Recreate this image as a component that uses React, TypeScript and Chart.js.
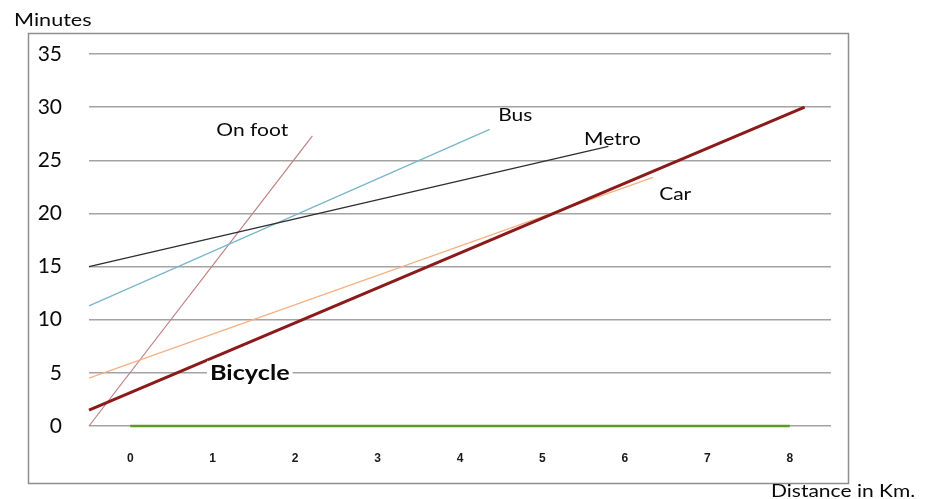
import React, { useEffect, useRef } from "react";
import { Chart, registerables } from "chart.js";

Chart.register(...registerables);

// Distance (km) on the x axis, travel time (minutes) on the y axis
const distanceTicks = [0, 1, 2, 3, 4, 5, 6, 7, 8];
const minuteTicksStep = 5;
const minuteMax = 35;

const onFootKm = [-0.5, 2.21];
const onFootMin = [0, 27.3];
const busKm = [-0.5, 4.36];
const busMin = [11.3, 27.9];
const metroKm = [-0.5, 5.8];
const metroMin = [15, 26.3];
const carKm = [-0.5, 6.34];
const carMin = [4.5, 23.4];
const bicycleKm = [-0.5, 8.18];
const bicycleMin = [1.5, 30];
const baselineKm = [0, 8];
const baselineMin = [0, 0];

// In-chart series names, anchored in data units
const labelNames = ["On foot", "Bus", "Metro", "Car", "Bicycle"];
const labelKm = [1.48, 4.67, 5.85, 6.61, 1.45];
const labelMin = [27.8, 29.2, 27.0, 21.8, 5.0];
const labelBold = [false, false, false, false, true];

const pts = (xs: number[], ys: number[]) => xs.map((x, i) => ({ x, y: ys[i] }));

function stretchedText(
  ctx: CanvasRenderingContext2D,
  text: string,
  x: number,
  y: number,
  font: string,
  align: CanvasTextAlign,
  sx = 1.2
) {
  ctx.save();
  ctx.font = font;
  ctx.textAlign = align;
  ctx.textBaseline = "middle";
  ctx.fillStyle = "#0a0a0a";
  ctx.translate(x, y);
  ctx.scale(sx, 1);
  ctx.fillText(text, 0, 0);
  ctx.restore();
}

const decorations = {
  id: "decorations",
  beforeDraw(chart: any) {
    const ctx: CanvasRenderingContext2D = chart.ctx;
    ctx.save();
    ctx.fillStyle = "#ffffff";
    ctx.fillRect(0, 0, chart.width, chart.height);
    ctx.strokeStyle = "#8f8f8f";
    ctx.lineWidth = 1.5;
    ctx.strokeRect(28.5, 33.5, 820, 450);
    ctx.restore();
  },
  afterDatasetsDraw(chart: any) {
    const ctx: CanvasRenderingContext2D = chart.ctx;
    const { x, y } = chart.scales;
    labelNames.forEach((name, i) => {
      const px = x.getPixelForValue(labelKm[i]);
      const py = y.getPixelForValue(labelMin[i]);
      if (labelBold[i]) {
        const font = "bold 21px Lato";
        ctx.save();
        ctx.font = font;
        const w = ctx.measureText(name).width * 1.2;
        ctx.fillStyle = "#ffffff";
        ctx.fillRect(px - w / 2 - 3, py - 12, w + 6, 24);
        ctx.restore();
        stretchedText(ctx, name, px, py, font, "center");
      } else {
        stretchedText(ctx, name, px, py, "17.5px Lato", "center");
      }
    });
    stretchedText(ctx, "Minutes", 14, 20, "18px Lato", "left");
    stretchedText(ctx, "Distance in Km.", 771, 491, "17.5px Lato", "left");
  },
};

export default function App() {
  const canvasRef = useRef<HTMLCanvasElement | null>(null);

  useEffect(() => {
    const canvas = canvasRef.current;
    if (!canvas) return;
    const common = { pointRadius: 0, pointHoverRadius: 0, tension: 0, fill: false, clip: false as const };
    const chart = new Chart(canvas, {
      type: "line",
      data: {
        datasets: [
          { label: "Bicycle", data: pts(bicycleKm, bicycleMin), borderColor: "#8b1a1a", borderWidth: 3, ...common },
          { label: "Car", data: pts(carKm, carMin), borderColor: "#f4b183", borderWidth: 1.3, ...common },
          { label: "Metro", data: pts(metroKm, metroMin), borderColor: "#2e2e2e", borderWidth: 1.3, ...common },
          { label: "Bus", data: pts(busKm, busMin), borderColor: "#7ab6cb", borderWidth: 1.3, ...common },
          { label: "On foot", data: pts(onFootKm, onFootMin), borderColor: "#c08080", borderWidth: 1.2, ...common },
          { label: "Baseline", data: pts(baselineKm, baselineMin), borderColor: "#5f9a22", borderWidth: 2.5, ...common },
        ],
      },
      options: {
        animation: false,
        responsive: false,
        events: [],
        layout: { padding: { left: 0, right: 94, top: 54, bottom: 0 } },
        plugins: { legend: { display: false }, tooltip: { enabled: false } },
        scales: {
          x: {
            type: "linear",
            min: -0.5,
            max: 8.5,
            afterBuildTicks: (s: any) => {
              s.ticks = distanceTicks.map((v) => ({ value: v }));
            },
            afterFit: (s: any) => {
              s.height = 73;
            },
            grid: { display: false, drawTicks: false },
            border: { display: false },
            ticks: {
              padding: 25,
              color: "#1a1a1a",
              font: { family: "Liberation Sans", size: 12, weight: "bold" },
              maxRotation: 0,
              autoSkip: false,
            },
          },
          y: {
            min: 0,
            max: minuteMax,
            afterFit: (s: any) => {
              s.width = 89;
            },
            grid: { color: "#a3a3a3", lineWidth: 1.5, drawTicks: false },
            border: { display: false },
            ticks: {
              stepSize: minuteTicksStep,
              padding: 27,
              color: "#0a0a0a",
              font: { family: "Lato", size: 21 },
            },
          },
        },
      },
      plugins: [decorations],
    });
    return () => chart.destroy();
  }, []);

  return (
    <div style={{ position: "absolute", left: 0, top: 0, width: 925, height: 499, background: "#fff" }}>
      <canvas ref={canvasRef} width={925} height={499} style={{ display: "block", width: 925, height: 499 }} />
    </div>
  );
}
